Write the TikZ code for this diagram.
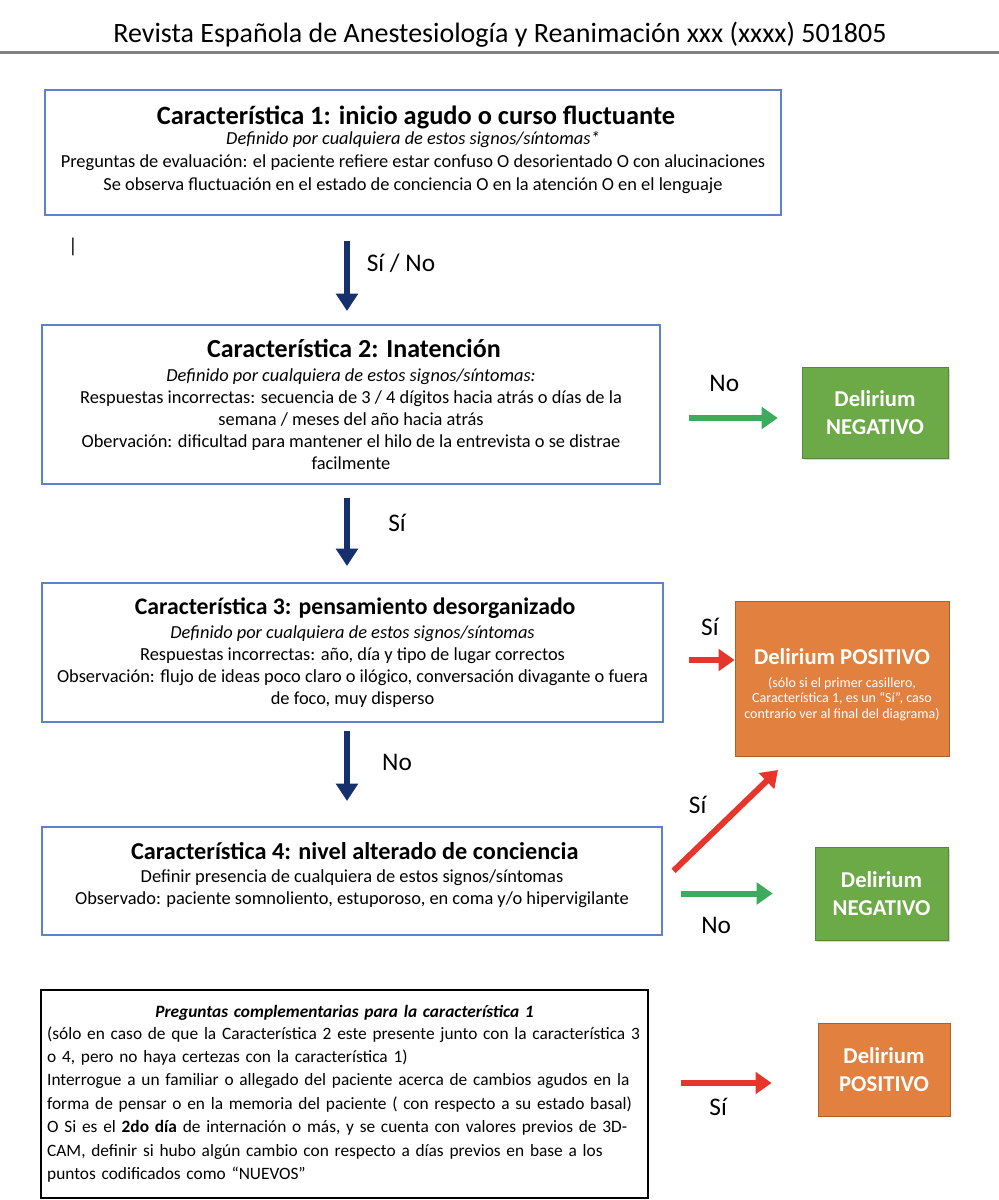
\documentclass[tikz,border=0pt]{standalone}
\usepackage{fontspec}
\setmainfont{Carlito}
\usetikzlibrary{arrows.meta, positioning, shadows}

\definecolor{featblue}{HTML}{5E82CA}
\definecolor{navyarrow}{HTML}{15306D}
\definecolor{deligreen}{HTML}{6CA947}
\definecolor{deliorange}{HTML}{E2803F}
\definecolor{arrowgreen}{HTML}{3DAB5B}
\definecolor{arrowred}{HTML}{E6352B}

\newcommand{\headsize}{\fontsize{21}{24}\selectfont}
\newcommand{\titlefont}[1]{\fontsize{#1}{23}\selectfont\bfseries}
\newcommand{\bodysize}{\fontsize{13.8}{16.5}\selectfont}
\newcommand{\onesize}{\fontsize{13.8}{17.25}\selectfont}
\newcommand{\qsize}{\fontsize{13}{17.6}\selectfont}
\newcommand{\labsize}{\fontsize{19}{22}\selectfont}
\newcommand{\delisize}{\fontsize{17}{21}\selectfont\bfseries}
\newcommand{\smallsize}{\fontsize{10.5}{11.6}\selectfont}

\begin{document}
\begin{tikzpicture}[x=0.75pt, y=-0.75pt,
	feat/.style = {draw=featblue, line width=1.5pt, align=center, inner sep=0pt, font=\bodysize},
	negbox/.style = {fill=deligreen, draw=deligreen!80!black, line width=0.4pt, text=white, align=center, inner sep=0pt, font=\delisize,
		drop shadow={shadow xshift=1.5pt, shadow yshift=-1.5pt, opacity=0.3}},
	posbox/.style = {fill=deliorange, draw=deliorange!75!black, line width=0.6pt, text=white, align=center, inner sep=0pt, font=\delisize},
	downarr/.style = {draw=navyarrow, line width=4.5pt, -{Triangle[width=16pt, length=13pt]}},
	noarr/.style = {draw=arrowgreen, line width=4.5pt, -{Triangle[width=16pt, length=12pt]}},
	yesarr/.style = {draw=arrowred, line width=4.5pt, -{Triangle[width=16pt, length=12pt]}},
	lab/.style = {font=\labsize, text=black}]

\useasboundingbox (0,0) rectangle (999,1200);

% header
\node[font=\headsize]	(header)	at (500,35)	{Revista Española de Anestesiología y Reanimación xxx (xxxx) 501805};
\draw[black!50, line width=2.25pt] (0,52) -- (999,52);
\node[font=\fontsize{15}{18}\selectfont]	(mark)	at (73,247)	{|};

% features
\node[feat, font=\onesize, text depth=6.75pt, minimum width=552pt, minimum height=93.75pt]	(box1)	at (413,152.5)
	{{\titlefont{19.8} Característica 1: inicio agudo o curso fluctuante}\\[-2pt]
	{\itshape Definido por cualquiera de estos signos/síntomas*}\\
	Preguntas de evaluación: el paciente refiere estar confuso O desorientado O con alucinaciones\\
	Se observa fluctuación en el estado de conciencia O en la atención O en el lenguaje};
\node[feat, minimum width=463.5pt, minimum height=119.25pt]	(box2)	at (351,404.5)
	{{\titlefont{19.5} Característica 2: Inatención}\\[2pt]
	{\itshape Definido por cualquiera de estos signos/síntomas:}\\
	Respuestas incorrectas: secuencia de 3 / 4 dígitos hacia atrás o días de la\\
	semana / meses del año hacia atrás\\
	Obervación: dificultad para mantener el hilo de la entrevista o se distrae\\
	facilmente};
\node[feat, minimum width=465.75pt, minimum height=104.25pt]	(box3)	at (352.5,652.5)
	{{\titlefont{17.8} Característica 3: pensamiento desorganizado}\\[1pt]
	{\itshape Definido por cualquiera de estos signos/síntomas}\\
	Respuestas incorrectas: año, día y tipo de lugar correctos\\
	Observación: flujo de ideas poco claro o ilógico, conversación divagante o fuera\\
	de foco, muy disperso};
\node[feat, text depth=11pt, minimum width=465pt, minimum height=81pt]	(box4)	at (352,881)
	{{\titlefont{18.2} Característica 4: nivel alterado de conciencia}\\[1pt]
	Definir presencia de cualquiera de estos signos/síntomas\\
	Observado: paciente somnoliento, estuporoso, en coma y/o hipervigilante};
\node[draw=black, line width=1.8pt, align=left, inner xsep=4.5pt, inner ysep=0pt, text width=446pt, minimum height=156pt, font=\qsize]	(boxq)	at (344.5,1094)
	{\makebox[446pt]{\textbf{\textit{Preguntas complementarias para la característica 1}}}\\[-1.5pt]
	(sólo en caso de que la Característica 2 este presente junto con la característica 3\\
	o 4, pero no haya certezas con la característica 1)\\
	Interrogue a un familiar o allegado del paciente acerca de cambios agudos en la\\
	forma de pensar o en la memoria del paciente ( con respecto a su estado basal)\\
	O Si es el \textbf{2do día} de internación o más, y se cuenta con valores previos de 3D-\\
	CAM, definir si hubo algún cambio con respecto a días previos en base a los\\
	puntos codificados como “NUEVOS”\\[8pt]};

% results
\node[negbox, minimum width=109.5pt, minimum height=68.25pt]	(neg1)	at (875,412.5)		{Delirium\\NEGATIVO};
\node[negbox, minimum width=99.75pt, minimum height=69.75pt]	(neg2)	at (881.5,893.5)	{Delirium\\NEGATIVO};
\node[posbox, font=\smallsize, minimum width=160.5pt, minimum height=116.25pt]	(pos1)	at (842,678.5)
	{\rule{0pt}{21pt}{\delisize Delirium POSITIVO}\\[5.65pt]
	(sólo si el primer casillero,\\
	Característica 1, es un “Sí”, caso\\
	contrario ver al final del diagrama)};
\node[posbox, minimum width=99pt, minimum height=69.75pt]	(pos2)	at (884,1069.5)	{Delirium\\POSITIVO};

% connectors
\coordinate (col) at (347,0);
\coordinate (g1) at (0,418);
\coordinate (r1) at (0,660);
\coordinate (up) at (778,770);
\coordinate (r3) at (0,1083);

\path	(box1.south -| col)	edge[downarr, shorten <=18.75pt, shorten >=9.75pt]	node[lab, pos=0.44, xshift=40.5pt] {Sí / No}	(box2.north -| col);
\path	(box2.south -| col)	edge[downarr, shorten <=9.75pt, shorten >=12pt]		node[lab, pos=0.39, xshift=37.5pt] {Sí}		(box3.north -| col);
\path	(box3.south -| col)	edge[downarr, shorten <=6pt, shorten >=18.75pt]		node[lab, pos=0.38, xshift=37.5pt] {No}		(box4.north -| col);
\path	(box2.east |- g1)	edge[noarr, shorten <=21pt, shorten >=18pt]			node[lab, pos=0.45, yshift=26.25pt] {No}	(neg1.west |- g1);
\path	(box3.east |- r1)	edge[yesarr, shorten <=18.75pt]						node[lab, pos=0.65, yshift=24.75pt] {Sí}	(pos1.west |- r1);
\path	(box4.east)			edge[yesarr, shorten <=11pt]						node[lab, pos=0.485, xshift=-15.8pt, yshift=16.5pt] {Sí}	(up);
\path	(box4.east |- neg2)	edge[noarr, shorten <=13.5pt, shorten >=31.5pt]		node[lab, pos=0.35, yshift=-23.6pt] {No}	(neg2.west);
\path	(boxq.east |- r3)	edge[yesarr, shorten <=24pt, shorten >=34.5pt]		node[lab, pos=0.41, yshift=-18pt] {Sí}		(pos2.west |- r3);

\end{tikzpicture}
\end{document}
